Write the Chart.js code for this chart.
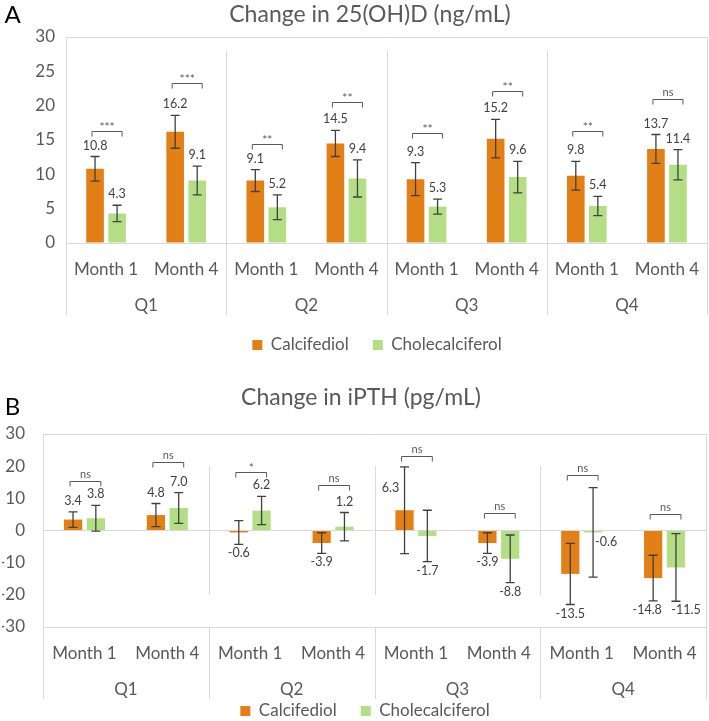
<!DOCTYPE html>
<html>
<head>
<meta charset="utf-8">
<script src="https://cdn.jsdelivr.net/npm/chart.js@4.4.1/dist/chart.umd.min.js"></script>
<style>
  html, body { margin: 0; padding: 0; background: #fff; overflow: hidden; }
  #chartA { position: absolute; left: 0; top: 0; }
  #chartB { position: absolute; left: 0; top: 360px; }
</style>
</head>
<body>
<canvas id="chartA" width="709" height="370"></canvas>
<canvas id="chartB" width="709" height="380"></canvas>
<script>
Chart.defaults.font.family = 'Lato, "Open Sans", sans-serif';
Chart.defaults.color = '#595959';

const months = ['Month 1', 'Month 4', 'Month 1', 'Month 4', 'Month 1', 'Month 4', 'Month 1', 'Month 4'];
const quarters = ['Q1', 'Q2', 'Q3', 'Q4'];
const seriesNames = ['Calcifediol', 'Cholecalciferol'];

// A: change in 25(OH)D
const calcifediolA = [10.8, 16.2, 9.1, 14.5, 9.3, 15.2, 9.8, 13.7];
const cholecalciferolA = [4.3, 9.1, 5.2, 9.4, 5.3, 9.6, 5.4, 11.4];
const calcifediolErrA = [1.8, 2.4, 1.6, 1.9, 2.4, 2.8, 2.1, 2.1];
const cholecalciferolErrA = [1.2, 2.1, 1.8, 2.7, 1.1, 2.3, 1.4, 2.2];
const sigA = ['***', '***', '**', '**', '**', '**', '**', 'ns'];
const sigHeightA = [16.3, 23.3, 14.4, 20.5, 16.0, 22.1, 16.3, 21.0];
const yTicksA = { min: 0, max: 30, step: 5 };

// B: change in iPTH
const calcifediolB = [3.4, 4.8, -0.6, -3.9, 6.3, -3.9, -13.5, -14.8];
const cholecalciferolB = [3.8, 7.0, 6.2, 1.2, -1.7, -8.8, -0.6, -11.5];
const calcifediolErrB = [2.4, 3.6, 3.7, 3.2, 13.5, 3.2, 9.5, 7.1];
const cholecalciferolErrB = [4.0, 4.8, 4.4, 4.4, 8.0, 7.4, 13.9, 10.5];
const sigB = ['ns', 'ns', '*', 'ns', 'ns', 'ns', 'ns', 'ns'];
const sigHeightB = [15.5, 21.4, 18.3, 14.0, 23.3, 5.3, 17.4, 5.0];
const yTicksB = { min: -30, max: 30, step: 10 };

const orange = '#E37F17';
const green = '#B3DE86';
const lineGrey = '#d9d9d9';

function makePanel(canvasId, panel) {
  const decor = {
    id: 'panelDecor',
    afterLayout(chart) {
      // nudge the legend so it sits where the original has it
      chart.legend.left += panel.legendShift;
      chart.legend.right += panel.legendShift;
    },
    beforeDatasetsDraw(chart) {
      const {ctx, chartArea} = chart;
      const x = chart.scales.x, y = chart.scales.y;
      ctx.save();
      ctx.textAlign = 'center';
      ctx.textBaseline = 'middle';
      ctx.fillStyle = '#000';
      ctx.font = '24px Lato';
      ctx.fillText(panel.letter, panel.letterPos[0], panel.letterPos[1]);
      ctx.fillStyle = '#595959';
      ctx.font = '23px Lato';
      ctx.fillText(panel.title, panel.titlePos[0], panel.titlePos[1]);

      // quarter labels under the month labels
      ctx.font = '17px Lato';
      quarters.forEach((q, i) => {
        ctx.fillText(q, x.getPixelForValue(i * 2 + 0.5), x.top + 63);
      });

      // quarter dividers
      ctx.strokeStyle = lineGrey;
      ctx.lineWidth = 1;
      const labelBottom = x.top + 72;
      for (let q = 0; q <= quarters.length; q++) {
        const px = Math.round(x.getPixelForValue(q * 2 - 0.5)) + 0.5;
        ctx.beginPath();
        if (q === 0 || q === quarters.length) {
          ctx.moveTo(px, chartArea.top);
          ctx.lineTo(px, labelBottom);
        } else {
          ctx.moveTo(px, y.getPixelForValue(panel.sepRange[0]));
          ctx.lineTo(px, y.getPixelForValue(panel.sepRange[1]));
          ctx.moveTo(px, x.top);
          ctx.lineTo(px, labelBottom);
        }
        ctx.stroke();
      }
      ctx.restore();
    },
    afterDatasetsDraw(chart) {
      const {ctx} = chart;
      const y = chart.scales.y;
      ctx.save();
      ctx.strokeStyle = '#404040';
      ctx.lineWidth = 1.3;
      ctx.fillStyle = '#404040';
      ctx.font = '12.5px Lato';
      ctx.textAlign = 'center';
      ctx.textBaseline = 'middle';

      chart.data.datasets.forEach((ds, di) => {
        chart.getDatasetMeta(di).data.forEach((bar, i) => {
          const v = ds.data[i], e = ds.errors[i];
          const top = y.getPixelForValue(v + e), bot = y.getPixelForValue(v - e);
          ctx.beginPath();
          ctx.moveTo(bar.x, top); ctx.lineTo(bar.x, bot);
          ctx.moveTo(bar.x - 4.5, top); ctx.lineTo(bar.x + 4.5, top);
          ctx.moveTo(bar.x - 4.5, bot); ctx.lineTo(bar.x + 4.5, bot);
          ctx.stroke();

          // value label: above/below the whisker, or moved aside like the original
          const shift = panel.labelShift[di + '-' + i];
          let lx = bar.x;
          let ly = v >= 0 ? top - 11 : bot + 9;
          if (shift) {
            lx += shift[0];
            ly = shift[2] === 'value' ? y.getPixelForValue(v) + shift[1] : ly + shift[1];
          }
          ctx.fillText(v.toFixed(1), lx, ly);
        });
      });

      // significance brackets
      const m0 = chart.getDatasetMeta(0).data, m1 = chart.getDatasetMeta(1).data;
      ctx.strokeStyle = '#595959';
      ctx.fillStyle = '#595959';
      ctx.lineWidth = 1;
      panel.sig.forEach((s, i) => {
        const yy = Math.round(y.getPixelForValue(panel.sigHeight[i])) + 0.5;
        const x0 = m0[i].x - 3, x1 = m1[i].x + 5;
        ctx.beginPath();
        ctx.moveTo(x0, yy + 5); ctx.lineTo(x0, yy); ctx.lineTo(x1, yy); ctx.lineTo(x1, yy + 5);
        ctx.stroke();
        ctx.font = s === 'ns' ? '11px Lato' : '12px Lato';
        ctx.fillText(s, (x0 + x1) / 2, s === 'ns' ? yy - 7 : yy - 4);
      });
      ctx.restore();
    }
  };

  const config = {
    type: 'bar',
    data: {
      labels: months,
      datasets: [{
        label: seriesNames[0],
        data: panel.series[0],
        errors: panel.errors[0],
        backgroundColor: orange
      }, {
        label: seriesNames[1],
        data: panel.series[1],
        errors: panel.errors[1],
        backgroundColor: green
      }]
    },
    options: {
      responsive: false,
      animation: false,
      categoryPercentage: 0.55,
      barPercentage: 0.8,
      layout: { padding: panel.padding },
      scales: {
        x: {
          position: 'bottom',
          grid: { display: false },
          border: { display: true, color: lineGrey },
          ticks: { font: { size: 17 }, color: '#595959', padding: 8, maxRotation: 0, autoSkip: false },
          afterFit: (scale) => { scale.height = panel.xHeight; }
        },
        y: {
          min: panel.yTicks.min,
          max: panel.yTicks.max,
          border: { display: false },
          grid: {
            drawTicks: false,
            color: (c) => (c.tick.value === 0 || c.tick.value === panel.yTicks.max) ? lineGrey : 'rgba(0,0,0,0)'
          },
          ticks: { stepSize: panel.yTicks.step, font: { size: 17 }, color: '#595959', padding: panel.yPad },
          afterFit: (scale) => { scale.width = panel.yWidth; }
        }
      },
      plugins: {
        legend: {
          position: 'bottom',
          labels: { boxWidth: 10, boxHeight: 10, padding: 24, color: '#595959', font: { size: 17 } }
        },
        title: { display: false },
        tooltip: { enabled: false }
      }
    },
    plugins: [decor]
  };

  return new Chart(document.getElementById(canvasId), config);
}

makePanel('chartA', {
  letter: 'A', letterPos: [12.5, 15],
  title: 'Change in 25(OH)D (ng/mL)', titlePos: [370, 15],
  series: [calcifediolA, cholecalciferolA],
  errors: [calcifediolErrA, cholecalciferolErrA],
  sig: sigA, sigHeight: sigHeightA,
  yTicks: yTicksA,
  sepRange: [28, 0],
  labelShift: {},
  padding: { top: 37, left: 2, right: 2, bottom: 6.5 },
  yWidth: 64, yPad: 11,
  xHeight: 69.5,
  legendShift: 22.5
});

makePanel('chartB', {
  letter: 'B', letterPos: [12.5, 47],
  title: 'Change in iPTH (pg/mL)', titlePos: [361, 38],
  series: [calcifediolB, cholecalciferolB],
  errors: [calcifediolErrB, cholecalciferolErrB],
  sig: sigB, sigHeight: sigHeightB,
  yTicks: yTicksB,
  sepRange: [20, -20],
  labelShift: {
    '0-4': [-14, -22, 'value'],
    '1-6': [13, 10, 'value'],
    '0-7': [-6, 0, 'whisker'],
    '1-7': [10, 0, 'whisker']
  },
  padding: { top: 74, left: 2, right: 3, bottom: 10.5 },
  yWidth: 41, yPad: 18,
  xHeight: 51.5,
  legendShift: 11
});
</script>
</body>
</html>
